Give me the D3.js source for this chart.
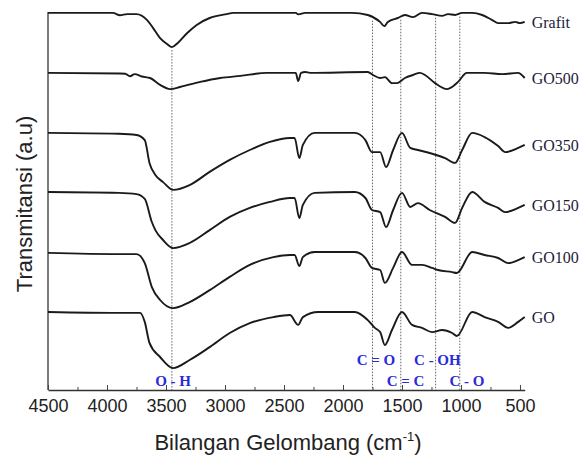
<!DOCTYPE html>
<html>
<head>
<meta charset="utf-8">
<script src="https://cdn.jsdelivr.net/npm/d3@7"></script>
<style>
  body { margin: 0; background: #fff; }
</style>
</head>
<body>
<svg id="chart"></svg>
<script>
// spektrum FTIR: [bilangan gelombang (cm-1), transmitansi (a.u)]
const grafit = [[4500,125.7],[3950,125.7],[3890,124.9],[3830,125.3],[3750,125.3],[3660,123.3],[3610,120.7],[3550,117.3],[3490,115.3],[3450,114.3],[3400,115.7],[3320,119],[3240,121.7],[3130,124],[2985,125.3],[2930,125.7],[2400,125.7],[2380,125.2],[2320,125.7],[1925,125.7],[1790,125],[1686,122.7],[1650,121.3],[1620,122.7],[1535,124],[1475,125],[1407,124.3],[1330,125.7],[1245,125.3],[1160,124.7],[1110,125.3],[1050,125],[990,125.7],[905,125.7],[820,125],[735,123.3],[685,122.3],[600,122.3],[540,122.7],[500,122.3],[460,122.7]];
const go500 = [[4500,105.7],[3890,105.5],[3845,105.4],[3805,104.6],[3765,105.3],[3705,104.5],[3635,104],[3550,101.7],[3465,100.3],[3380,101],[3210,102.7],[3040,104],[2870,104.7],[2645,105.7],[2450,105.7],[2400,105.7],[2380,103],[2355,105.7],[2320,106],[2280,105.7],[1790,106],[1745,105],[1686,104],[1644,104.3],[1585,102.3],[1542,102.3],[1475,104],[1407,105],[1347,105.7],[1305,105],[1220,102.3],[1119,100.3],[1076,101],[1025,102.7],[950,105.7],[800,105.7],[650,105.3],[517,105.7],[460,104]];
const go350 = [[4500,85.7],[3900,85.4],[3750,85],[3680,83.3],[3640,75.7],[3590,71.7],[3525,69.3],[3440,66.7],[3300,68.3],[3130,72.7],[2960,76.7],[2790,80],[2620,82.7],[2450,84],[2410,84],[2370,77.3],[2340,81.7],[2240,85.7],[1900,85.7],[1810,83.3],[1755,79.3],[1685,79.3],[1635,74.3],[1575,80],[1500,85.7],[1430,80.7],[1365,80],[1265,79],[1135,77.3],[1050,75.7],[990,80],[905,85.7],[800,84.3],[685,81.3],[625,79.3],[515,80.7],[460,81.7]];
const go150 = [[4500,66],[3900,65.7],[3750,65.3],[3680,63.7],[3620,56],[3590,53.3],[3525,50],[3440,47.3],[3300,49],[3130,53.3],[2960,57.7],[2790,60.7],[2620,62.7],[2450,64],[2410,64],[2370,57.3],[2340,61.7],[2240,65.7],[1900,66],[1810,64],[1755,60],[1685,59.3],[1635,54.3],[1575,60],[1500,65.7],[1430,61],[1365,62.3],[1265,60],[1135,57.7],[1050,55.7],[990,60.7],[905,66],[800,62.7],[685,60.7],[625,59.3],[515,60.7],[460,61.7]];
const go100 = [[4500,45.7],[3900,45.3],[3750,45.3],[3680,42.3],[3620,34.3],[3550,30],[3440,27.3],[3300,29.3],[3130,33.3],[2960,37.7],[2790,41.7],[2590,44.3],[2450,45],[2410,45],[2370,41.3],[2340,44.3],[2240,46],[1900,46],[1810,44],[1755,40.7],[1685,40],[1645,35.7],[1575,40.7],[1500,46],[1415,41.7],[1330,41.7],[1245,40.7],[1195,40],[1075,39.3],[1035,39],[905,46],[800,45],[685,44],[600,42.3],[515,43.3],[460,44.3]];
const go = [[4500,26],[3900,25.7],[3720,25.7],[3680,22.7],[3640,15.7],[3550,11],[3440,7.3],[3300,10],[3130,14.3],[2960,19],[2790,22.3],[2590,24.3],[2450,25],[2380,21.7],[2340,24.3],[2210,26],[1900,26],[1790,23.3],[1730,20.7],[1685,19.3],[1645,15],[1585,20],[1500,26],[1415,21.7],[1330,20.7],[1245,19.3],[1160,20],[1075,19],[1035,18],[905,26],[800,24.3],[685,22.7],[600,20.7],[515,22.7],[460,24.3]];

const seriesNames = ["Grafit", "GO500", "GO350", "GO150", "GO100", "GO"];
const seriesData = [grafit, go500, go350, go150, go100, go];

// pita serapan (garis titik-titik)
const bandWave = [3450, 1750, 1510, 1215, 1010];
const bandLabels = [
  { text: "O - H", wave: 3440, row: 1 },
  { text: "C = O", wave: 1720, row: 0 },
  { text: "C - OH", wave: 1200, row: 0 },
  { text: "C = C", wave: 1470, row: 1 },
  { text: "C - O", wave: 950, row: 1 }
];

const majorTicks = [4500, 4000, 3500, 3000, 2500, 2000, 1500, 1000, 500];
const minorTicks = [4250, 3750, 3250, 2750, 2250, 1750, 1250, 750];

const width = 582, height = 457;
const svg = d3.select("#chart").attr("width", width).attr("height", height);

const x = d3.scaleLinear().domain([4500, 460]).range([48, 524.7]);
const y = d3.scaleLinear().domain([0, 126]).range([390, 12]);

// nilai grafit pada bilangan gelombang tertentu (untuk ujung atas garis pita)
const grafitAt = w => {
  const sorted = grafit.slice().reverse();
  const i = d3.bisector(d => d[0]).left(sorted, w);
  const a = sorted[Math.max(i - 1, 0)], b = sorted[Math.min(i, sorted.length - 1)];
  if (a[0] === b[0]) return a[1];
  return a[1] + (b[1] - a[1]) * (w - a[0]) / (b[0] - a[0]);
};

svg.append("g")
    .attr("stroke", "#666")
    .attr("stroke-width", 1)
    .attr("stroke-dasharray", "1.5,1.5")
  .selectAll("line")
  .data(bandWave)
  .join("line")
    .attr("x1", d => x(d)).attr("x2", d => x(d))
    .attr("y1", d => y(grafitAt(d)) + 3)
    .attr("y2", y(0));

// sumbu
svg.append("line")
    .attr("x1", x(4500)).attr("x2", x(4500))
    .attr("y1", y(126)).attr("y2", y(0))
    .attr("stroke", "#333").attr("stroke-width", 1.3);

const xAxis = svg.append("g")
    .attr("transform", `translate(0,${y(0)})`)
    .call(d3.axisBottom(x).tickValues(majorTicks).tickFormat(d3.format("d"))
      .tickSize(-5).tickSizeOuter(0).tickPadding(9));
xAxis.select(".domain").attr("stroke", "#333").attr("stroke-width", 1.3);
xAxis.selectAll(".tick line").attr("stroke", "#444");
xAxis.selectAll(".tick text")
    .attr("font-family", "'Liberation Sans', Arial, sans-serif")
    .attr("font-size", 18)
    .attr("fill", "#222");

const minorAxis = svg.append("g")
    .attr("transform", `translate(0,${y(0)})`)
    .call(d3.axisBottom(x).tickValues(minorTicks).tickSize(-3).tickSizeOuter(0).tickFormat(""));
minorAxis.select(".domain").remove();
minorAxis.selectAll(".tick line").attr("stroke", "#444");

// spektrum
const line = d3.line()
    .x(d => x(d[0]))
    .y(d => y(d[1]))
    .curve(d3.curveMonotoneX);

svg.append("g")
    .attr("fill", "none")
    .attr("stroke", "#1a1a1a")
    .attr("stroke-width", 1.9)
    .attr("stroke-linejoin", "round")
  .selectAll("path")
  .data(seriesData)
  .join("path")
    .attr("d", line);

svg.append("g")
    .attr("font-family", "'Liberation Serif', 'Times New Roman', serif")
    .attr("font-size", 16)
    .attr("fill", "#1c1c3a")
  .selectAll("text")
  .data(seriesData)
  .join("text")
    .attr("x", d => x(d[d.length - 1][0]) + 7)
    .attr("y", d => y(d[d.length - 1][1]))
    .attr("dy", "0.35em")
    .text((d, i) => seriesNames[i]);

// label pita
svg.append("g")
    .attr("font-family", "'Liberation Serif', 'Times New Roman', serif")
    .attr("font-size", 15)
    .attr("font-weight", "bold")
    .attr("fill", "#2b2bd6")
    .attr("text-anchor", "middle")
  .selectAll("text")
  .data(bandLabels)
  .join("text")
    .attr("x", d => x(d.wave))
    .attr("y", d => d.row === 0 ? y(8.3) : y(1.5))
    .text(d => d.text);

// judul sumbu
const xTitle = svg.append("text")
    .attr("x", 288)
    .attr("y", 450)
    .attr("text-anchor", "middle")
    .attr("font-family", "'Liberation Sans', Arial, sans-serif")
    .attr("font-size", 22)
    .attr("fill", "#222");
xTitle.append("tspan").text("Bilangan Gelombang (cm");
xTitle.append("tspan").attr("font-size", 13).attr("dy", -9).text("-1");
xTitle.append("tspan").attr("dy", 9).text(")");

svg.append("text")
    .attr("transform", "translate(32,204) rotate(-90)")
    .attr("text-anchor", "middle")
    .attr("font-family", "'Liberation Sans', Arial, sans-serif")
    .attr("font-size", 22)
    .attr("fill", "#222")
    .text("Transmitansi (a.u)");
</script>
</body>
</html>
